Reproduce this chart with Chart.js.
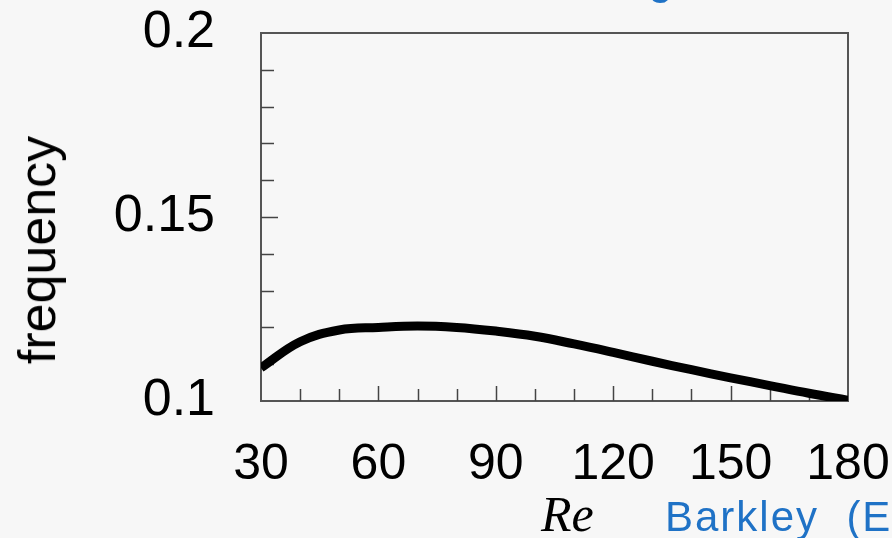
<!DOCTYPE html>
<html lang="en">
<head>
  <meta charset="UTF-8">
  <title>frequency vs Re</title>
  <script src="https://cdn.jsdelivr.net/npm/chart.js"></script>
  <style>
    * {
      margin: 0;
      padding: 0;
      box-sizing: border-box;
    }

    body {
      width: 892px;
      height: 538px;
      background-color: #f7f7f7;
      overflow: hidden;
    }

    .wrap {
      position: relative;
      width: 892px;
      height: 538px;
      overflow: hidden;
    }

    #chartCanvas {
      position: absolute;
      left: 0;
      top: 0;
    }

    .txt {
      position: absolute;
      line-height: 1;
      white-space: pre;
    }

    #ylab {
      left: 37px;
      top: 250px;
      font: 52px "Liberation Sans", Arial, sans-serif;
      color: #000;
      transform: translate(-50%, -50%) rotate(-90deg);
    }

    #xlab {
      left: 541px;
      top: 485px;
      font: italic 50px "Liberation Serif", "Times New Roman", serif;
      color: #000;
    }

    #cite {
      left: 665px;
      top: 493px;
      font: 42px "Liberation Sans", Arial, sans-serif;
      letter-spacing: 2px;
      color: #1f72c6;
    }

    #topcite {
      left: 543px;
      top: -50px;
      font: 46px "Liberation Sans", Arial, sans-serif;
      color: #1f72c6;
    }
  </style>
</head>
<body>
<div class="wrap">
  <canvas id="chartCanvas" width="892" height="538"></canvas>
  <div class="txt" id="topcite">Zhang, 1995,</div>
  <div class="txt" id="ylab">frequency</div>
  <div class="txt" id="xlab">Re</div>
  <div class="txt" id="cite">Barkley  (EPL 2006)</div>
</div>

<script>
  // 数据
  const reValues = [30, 40, 50, 60, 70, 80, 90, 100, 110, 120, 130, 140, 150, 160, 170, 180];
  const freqValues = [0.1090, 0.1161, 0.1193, 0.1200, 0.1204, 0.1200, 0.1190, 0.1176,
    0.1155, 0.1132, 0.1108, 0.1085, 0.1063, 0.1042, 0.1021, 0.1002];

  const xTickValues = [30, 60, 90, 120, 150, 180];
  const xTickLabels = ['30', '60', '90', '120', '150', '180'];
  const yTickValues = [0.1, 0.15, 0.2];
  const yTickLabels = ['0.1', '0.15', '0.2'];

  // 内侧小刻度
  const xMinorTicks = [40, 50, 60, 70, 80, 90, 100, 110, 120, 130, 140, 150, 160, 170];
  const xMajorInner = [60, 90, 120, 150];
  const yMinorTicks = [0.11, 0.12, 0.13, 0.14, 0.15, 0.16, 0.17, 0.18, 0.19];
  const yMajorInner = [0.15];

  const xFont = {family: '"Liberation Sans", Arial, sans-serif', size: 50};
  const yFont = {family: '"Liberation Sans", Arial, sans-serif', size: 52};

  // 画框和向内的刻度
  const framePlugin = {
    id: 'frame',
    beforeDatasetsDraw(chart) {
      const {ctx, chartArea: a, scales} = chart;
      ctx.save();
      ctx.strokeStyle = '#555';
      ctx.lineWidth = 2;
      ctx.strokeRect(a.left, a.top, a.right - a.left, a.bottom - a.top);

      ctx.strokeStyle = '#444';
      ctx.lineWidth = 1.5;
      ctx.beginPath();
      xMinorTicks.forEach(v => {
        const px = Math.round(scales.x.getPixelForValue(v)) + 0.5;
        const len = xMajorInner.includes(v) ? 15 : 12;
        ctx.moveTo(px, a.bottom);
        ctx.lineTo(px, a.bottom - len);
      });
      yMinorTicks.forEach(v => {
        const py = Math.round(scales.y.getPixelForValue(v)) + 0.5;
        const len = yMajorInner.includes(v) ? 17 : 13;
        ctx.moveTo(a.left, py);
        ctx.lineTo(a.left + len, py);
      });
      ctx.stroke();
      ctx.restore();
    }
  };

  const ctx = document.getElementById('chartCanvas').getContext('2d');
  const chart = new Chart(ctx, {
    type: 'line',
    data: {
      datasets: [{
        data: reValues.map((x, i) => ({x: x, y: freqValues[i]})),
        borderColor: '#000',
        borderWidth: 9,
        pointRadius: 0,
        tension: 0.4,
        clip: 0
      }]
    },
    options: {
      responsive: false,
      animation: false,
      devicePixelRatio: 1,
      layout: {
        padding: {top: 33, right: 44, left: 0, bottom: 0}
      },
      plugins: {
        legend: {display: false},
        tooltip: {enabled: false}
      },
      scales: {
        x: {
          type: 'linear',
          min: 30,
          max: 180,
          afterBuildTicks: s => { s.ticks = xTickValues.map(v => ({value: v})); },
          afterFit: s => {
            s.height = 137;
            s.paddingLeft = 0;
            s.paddingRight = 0;
          },
          grid: {display: false},
          border: {display: false},
          ticks: {
            color: '#000',
            font: xFont,
            padding: 26,
            maxRotation: 0,
            autoSkip: false,
            callback: v => xTickLabels[xTickValues.indexOf(v)]
          }
        },
        y: {
          type: 'linear',
          min: 0.1,
          max: 0.2,
          afterBuildTicks: s => { s.ticks = yTickValues.map(v => ({value: v})); },
          afterFit: s => {
            s.width = 261;
            s.paddingTop = 0;
            s.paddingBottom = 0;
          },
          grid: {display: false},
          border: {display: false},
          ticks: {
            color: '#000',
            font: yFont,
            padding: 38,
            autoSkip: false,
            callback: v => yTickLabels[yTickValues.indexOf(v)]
          }
        }
      }
    },
    plugins: [framePlugin]
  });
</script>
</body>
</html>
